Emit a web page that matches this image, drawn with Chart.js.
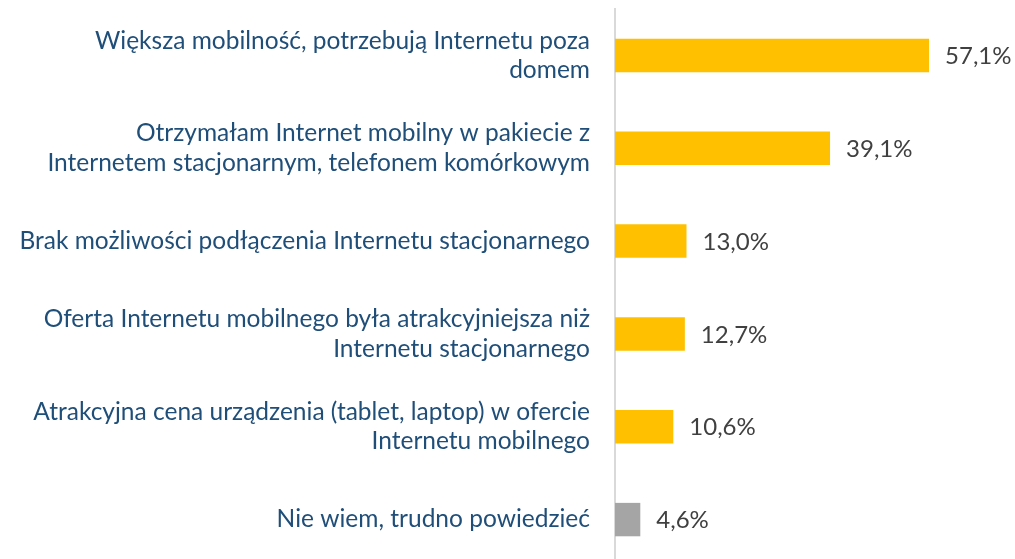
<!DOCTYPE html>
<html>
<head>
    <meta charset="UTF-8">
    <title>Powody korzystania z Internetu mobilnego</title>
    <style type="text/css">
        body {
            background-color: white;
            margin: 0;
            padding: 0;
            overflow: hidden;
        }

        #barChartContainer {
            width: 1015px;
            height: 575px;
        }
    </style>

    <script src="https://cdn.jsdelivr.net/npm/chart.js@4.4.0/dist/chart.umd.min.js"></script>

    <script type="text/javascript">
    var categories = [
        ['Większa mobilność, potrzebują Internetu poza', 'domem'],
        ['Otrzymałam Internet mobilny w pakiecie z', 'Internetem stacjonarnym, telefonem komórkowym'],
        'Brak możliwości podłączenia Internetu stacjonarnego',
        ['Oferta Internetu mobilnego była atrakcyjniejsza niż', 'Internetu stacjonarnego'],
        ['Atrakcyjna cena urządzenia (tablet, laptop) w ofercie', 'Internetu mobilnego'],
        'Nie wiem, trudno powiedzieć'
    ];
    var values = [57.1, 39.1, 13.0, 12.7, 10.6, 4.6];
    var barColors = ['#FFC000', '#FFC000', '#FFC000', '#FFC000', '#FFC000', '#A5A5A5'];

    // napisy z wartościami za słupkami
    var valueLabels = {
        id: 'valueLabels',
        afterDatasetsDraw: function (chart) {
            var ctx = chart.ctx;
            var meta = chart.getDatasetMeta(0);
            ctx.save();
            ctx.font = '24px Lato, sans-serif';
            ctx.fillStyle = '#404040';
            ctx.textAlign = 'left';
            ctx.textBaseline = 'middle';
            meta.data.forEach(function (bar, i) {
                var txt = values[i].toFixed(1).replace('.', ',') + '%';
                ctx.fillText(txt, bar.x + 16, bar.y + 1);
            });
            ctx.restore();
        }
    };

    document.addEventListener("DOMContentLoaded", function () {
        var ctx = document.getElementById('barChart').getContext('2d');
        new Chart(ctx, {
            type: 'bar',
            data: {
                labels: categories,
                datasets: [{
                    data: values,
                    backgroundColor: barColors,
                    categoryPercentage: 1,
                    barPercentage: 0.36
                }]
            },
            options: {
                indexAxis: 'y',
                responsive: false,
                animation: false,
                layout: { padding: { top: 9, bottom: 9, right: 15 } },
                plugins: {
                    legend: { display: false },
                    tooltip: { enabled: false }
                },
                scales: {
                    x: {
                        display: false,
                        min: 0,
                        max: 70
                    },
                    y: {
                        afterFit: function (scale) {
                            scale.width = 615;
                            scale.paddingTop = 0;
                            scale.paddingBottom = 0;
                        },
                        grid: { display: false },
                        border: { display: true, color: '#D9D9D9', width: 2 },
                        ticks: {
                            color: '#1F4E79',
                            padding: 17,
                            font: { family: 'Lato', size: 24.5, lineHeight: 1.2 }
                        }
                    }
                }
            },
            plugins: [valueLabels]
        });
    });
    </script>
</head>
<body>
    <div id="barChartContainer">
        <canvas id="barChart" width="1015" height="575"></canvas>
    </div>
</body>
</html>
